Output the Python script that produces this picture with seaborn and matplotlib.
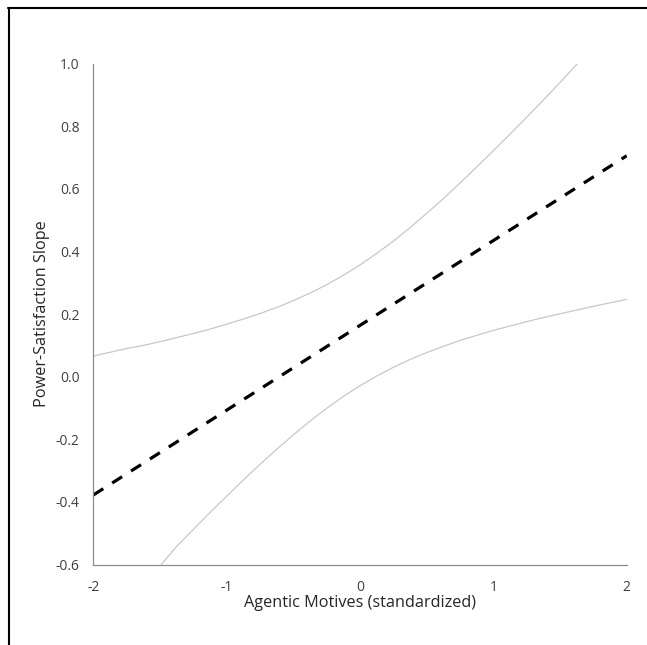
import numpy as np
import pandas as pd
import matplotlib.pyplot as plt
import seaborn as sns
from matplotlib.lines import Line2D

# values
motive = [-2, -1, 0, 1, 2]
slope = [-0.378, -0.107, 0.164, 0.435, 0.706]

upper_x = [-2, -1.875, -1.75, -1.625, -1.5, -1.375, -1.25, -1.125, -1, -0.875, -0.75,
           -0.625, -0.5, -0.375, -0.25, -0.125, 0, 0.125, 0.25, 0.375, 0.5, 0.625,
           0.75, 0.875, 1, 1.125, 1.25, 1.375, 1.5, 1.63]
upper_y = [0.066, 0.078, 0.090, 0.100, 0.112, 0.125, 0.138, 0.152, 0.168, 0.184, 0.202,
           0.221, 0.243, 0.267, 0.294, 0.324, 0.357, 0.394, 0.433, 0.476, 0.522, 0.569,
           0.619, 0.670, 0.722, 0.775, 0.829, 0.884, 0.940, 1.0]

lower_x = [-1.49, -1.375, -1.25, -1.125, -1, -0.875, -0.75, -0.625, -0.5, -0.375, -0.25,
           -0.125, 0, 0.125, 0.25, 0.375, 0.5, 0.625, 0.75, 0.875, 1, 1.125, 1.25,
           1.375, 1.5, 1.625, 1.75, 1.875, 2]
lower_y = [-0.6, -0.542, -0.488, -0.434, -0.382, -0.330, -0.280, -0.232, -0.186, -0.142,
           -0.101, -0.063, -0.029, 0.002, 0.030, 0.055, 0.077, 0.097, 0.116, 0.132,
           0.148, 0.162, 0.176, 0.189, 0.201, 0.213, 0.225, 0.236, 0.247]

yticks = [-0.6, -0.4, -0.2, 0.0, 0.2, 0.4, 0.6, 0.8, 1.0]
xticks = [-2, -1, 0, 1, 2]

sns.set_style("white")
plt.rcParams['font.family'] = ['Open Sans', 'DejaVu Sans']

fig = plt.figure(figsize=(6.47, 6.45), dpi=100)
ax = fig.add_axes([0.1442, 0.1248, 0.8244, 0.7764])

df = pd.DataFrame({'x': motive, 'y': slope})
up = pd.DataFrame({'x': upper_x, 'y': upper_y})
lo = pd.DataFrame({'x': lower_x, 'y': lower_y})

sns.lineplot(data=up, x='x', y='y', ax=ax, color='#c8c8c8', linewidth=0.9, sort=False)
sns.lineplot(data=lo, x='x', y='y', ax=ax, color='#c8c8c8', linewidth=0.9, sort=False)
sns.lineplot(data=df, x='x', y='y', ax=ax, color='black', linewidth=2.3,
             sort=False).lines[-1].set_dashes((3.7, 3.3))

ax.set_xlim(-2, 2)
ax.set_ylim(-0.6, 1.0)
ax.set_xticks(xticks)
ax.set_xticklabels([str(t) for t in xticks])
ax.set_yticks(yticks)
ax.set_yticklabels([f"{t:.1f}" for t in yticks])

for s in ['top', 'right']:
    ax.spines[s].set_visible(False)
for s in ['left', 'bottom']:
    ax.spines[s].set_color('#8c8c8c')
    ax.spines[s].set_linewidth(0.9)

ax.tick_params(axis='both', direction='out', length=4, width=0.9, color='#8c8c8c',
               labelsize=10, labelcolor='#404040')
ax.tick_params(axis='y', pad=6)
ax.tick_params(axis='x', pad=7)

ax.set_xlabel('Agentic Motives (standardized)', fontsize=11.7, color='#262626', labelpad=0)
ax.set_ylabel('Power-Satisfaction Slope', fontsize=11.7, color='#262626', labelpad=4)

# black frame, only top and left visible
fig.add_artist(Line2D([8 / 647, 1], [1 - 8 / 645, 1 - 8 / 645], color='black', linewidth=1.5))
fig.add_artist(Line2D([8.5 / 647, 8.5 / 647], [0, 1 - 8 / 645], color='black', linewidth=1.5))

fig.savefig('out.png', dpi=100)
